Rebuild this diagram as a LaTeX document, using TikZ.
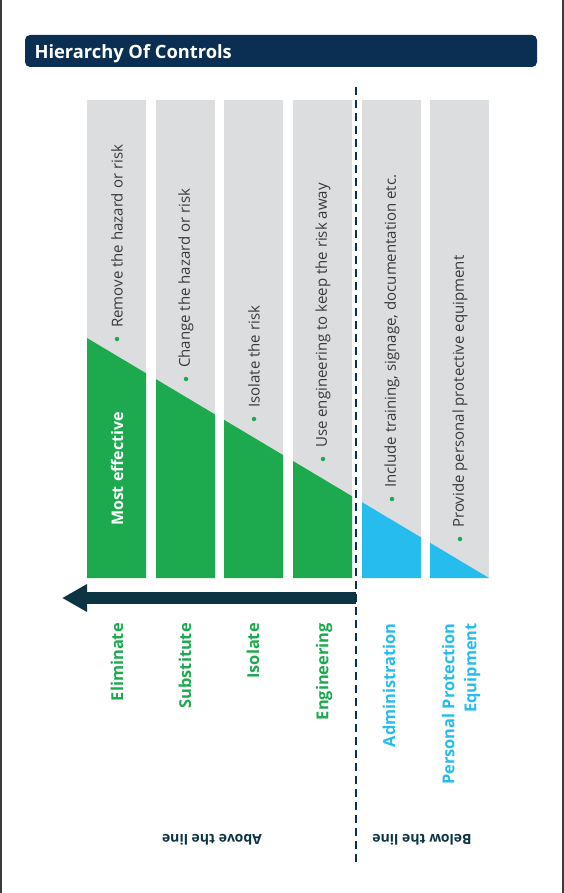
\documentclass[tikz,border=0pt]{standalone}
\usepackage{fontspec}
\setmainfont{Open Sans}
\usetikzlibrary{arrows.meta,positioning}
\definecolor{hocnavy}{HTML}{0B2F52}
\definecolor{hocteal}{HTML}{0C3443}
\definecolor{hocgray}{HTML}{DCDDDF}
\definecolor{hocgreen}{HTML}{1DAA4F}
\definecolor{hocblue}{HTML}{27BCEE}
\definecolor{hoctext}{HTML}{3A3A3A}
\definecolor{hocframe}{HTML}{3C3C3C}
\tikzset{
  coltext/.style={rotate=90,anchor=west,inner sep=0pt,text=hoctext,font=\fontsize{15}{18}\selectfont},
  bullet/.style={circle,fill=hocgreen,inner sep=0pt,minimum size=4.5pt},
  ctrllabel/.style={rotate=90,anchor=east,align=right,inner sep=0pt,font=\bfseries\fontsize{16.4}{22}\selectfont},
  sidelabel/.style={rotate=180,inner sep=0pt,text=hocteal,font=\bfseries\fontsize{14}{16}\selectfont}
}

\begin{document}
\begin{tikzpicture}[x=1pt,y=-1pt]
  \useasboundingbox (0,0) rectangle (564,893);
  \draw[hocframe,line width=1.5pt] (0.75,0) -- (0.75,893);
  \draw[hocframe,line width=1.5pt] (563,0) -- (563,893);

  \fill[hocnavy,rounded corners=5pt] (25,35) rectangle (537,67);
  \node[anchor=base west,text=white,font=\bfseries\fontsize{18.3}{20}\selectfont] (title) at (31,59) {Hierarchy Of Controls};

  \foreach \x/\c [count=\i] in {87/hocgreen,156/hocgreen,224/hocgreen,293/hocgreen,362/hocblue,430/hocblue}{
    \fill[hocgray] (\x,100) rectangle (\x+59,578);
    \fill[\c] (\x,{338+0.597*(\x-87)}) -- (\x+59,{338+0.597*(\x+59-87)}) -- (\x+59,578) -- (\x,578) -- cycle;
    \node[bullet] (bul\i) at (\x+30,{339+40*(\i-1)}) {};
  }

  \foreach \t [count=\i] in {Remove the hazard or risk,Change the hazard or risk,Isolate the risk,Use engineering to keep the risk away,{Include training, signage, documentation etc.},Provide personal protective equipment}
    \node[coltext] (desc\i) at ([yshift=11pt]bul\i.center) {\t};

  \node[rotate=90,text=white,font=\bfseries\fontsize{16}{18}\selectfont] (most) at (117,469) {Most effective};

  \coordinate (arrowbase) at (356,598);
  \coordinate (arrowtip) at (62,598);
  \draw[hocteal,line width=12pt,-{Triangle[length=25pt,width=26pt]}] (arrowbase) -- (arrowtip);

  \foreach \x/\c/\t [count=\i] in {117/hocgreen/Eliminate,185/hocgreen/Substitute,253/hocgreen/Isolate,324/hocgreen/Engineering,389/hocblue/Administration,461/hocblue/{Personal Protection\\Equipment}}
    \node[ctrllabel,text=\c] (ctrl\i) at (\x,623) {\t};

  \coordinate (divtop) at (356,87);
  \coordinate (divbot) at (356,865);
  \draw[hocnavy,line width=1.3pt,dash pattern=on 8pt off 5pt] (divtop) -- (divbot);

  \node[sidelabel] (above) at (212,840) {Above the line};
  \node[sidelabel] (below) at (422,840) {Below the line};
\end{tikzpicture}
\end{document}
